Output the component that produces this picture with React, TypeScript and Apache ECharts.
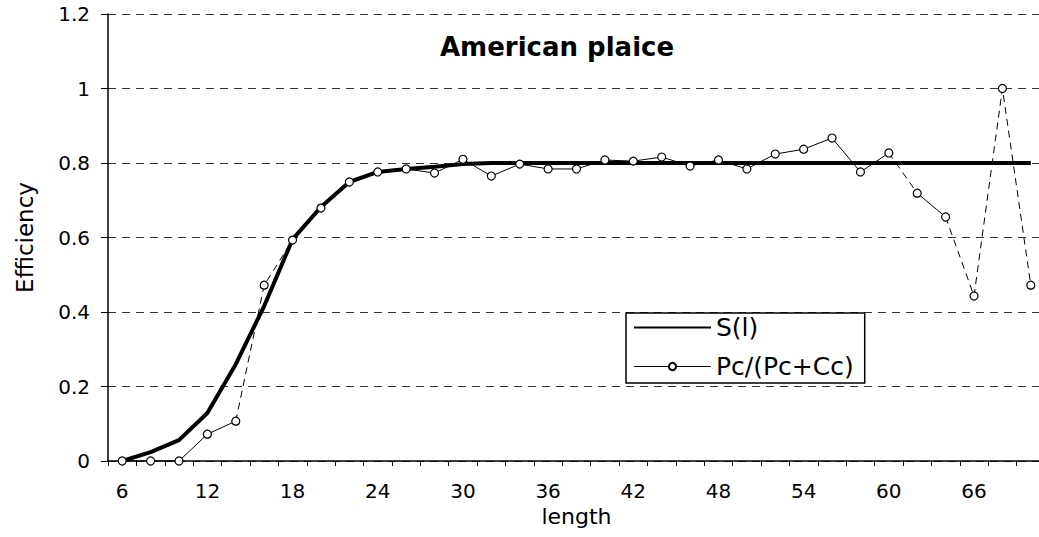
import React, { useEffect, useRef } from 'react';
import * as echarts from 'echarts';

const lengths = ['6', '8', '10', '12', '14', '16', '18', '20', '22', '24', '26', '28', '30', '32', '34', '36', '38', '40', '42', '44', '46', '48', '50', '52', '54', '56', '58', '60', '62', '64', '66', '68', '70'];

const sCurve = [0, 0.024, 0.056, 0.129, 0.26, 0.416, 0.595, 0.682, 0.749, 0.776, 0.784, 0.79, 0.797, 0.8, 0.8, 0.8, 0.8, 0.8, 0.8, 0.8, 0.8, 0.8, 0.8, 0.8, 0.8, 0.8, 0.8, 0.8, 0.8, 0.8, 0.8, 0.8, 0.8];

const pcRatio = [0, 0, 0, 0.072, 0.107, 0.472, 0.593, 0.679, 0.749, 0.776, 0.784, 0.773, 0.81, 0.765, 0.797, 0.784, 0.784, 0.808, 0.805, 0.816, 0.792, 0.808, 0.784, 0.824, 0.837, 0.867, 0.776, 0.827, 0.719, 0.655, 0.443, 1.0, 0.472];

const seriesNames = ['S(l)', 'Pc/(Pc+Cc)'];
const titleText = 'American plaice';
const xName = 'length';
const yName = 'Efficiency';

const FONT = 'DejaVu Sans';

export default function App() {
  const ref = useRef<HTMLDivElement>(null);
  useEffect(() => {
    document.body.style.margin = '0';
    const chart = echarts.init(ref.current!, null, { renderer: 'svg' });

    // segments of the thin series: steep ones rendered broken (dashed) as in the reference
    const runs: { start: number; end: number; dashed: boolean }[] = [];
    for (let i = 0; i < pcRatio.length - 1; i++) {
      const dashed = Math.abs(pcRatio[i + 1] - pcRatio[i]) > 0.1;
      const last = runs[runs.length - 1];
      if (last && last.dashed === dashed && last.end === i) last.end = i + 1;
      else runs.push({ start: i, end: i + 1, dashed });
    }

    const runSeries = runs.map((r) => ({
      name: seriesNames[1],
      type: 'line',
      data: pcRatio.map((v, i) => (i >= r.start && i <= r.end ? v : null)),
      symbol: 'none',
      connectNulls: false,
      lineStyle: { color: '#000', width: 1, type: r.dashed ? [7, 5] : 'solid' },
      z: 2,
      silent: true,
    }));

    const option: any = {
      animation: false,
      title: {
        text: titleText,
        left: 440,
        top: 34,
        padding: 0,
        textStyle: { fontFamily: FONT, fontWeight: 'bold', fontSize: 26, color: '#000' },
      },
      grid: { left: 108, top: 14, width: 937, height: 447, outerBoundsMode: 'none', containLabel: false },
      legend: {
        orient: 'vertical',
        left: 626,
        top: 313,
        itemWidth: 77,
        itemHeight: 9,
        itemGap: 14,
        padding: [2, 11, 4, 7],
        borderColor: '#000',
        borderWidth: 1.5,
        backgroundColor: '#fff',
        textStyle: { fontFamily: FONT, fontSize: 25, color: '#000' },
        data: [
          { name: seriesNames[0], itemStyle: { opacity: 0 } },
          { name: seriesNames[1], lineStyle: { opacity: 1, width: 1, color: '#000', type: 'solid' } },
        ],
      },
      xAxis: {
        type: 'category',
        data: lengths,
        boundaryGap: true,
        name: xName,
        nameLocation: 'middle',
        nameGap: 40,
        nameTextStyle: { fontFamily: FONT, fontSize: 22, color: '#000' },
        axisLine: { show: true, lineStyle: { color: '#000', width: 1.5 } },
        axisTick: { show: true, interval: 0, length: 5, lineStyle: { color: '#000', width: 1 } },
        axisLabel: { interval: 2, fontFamily: FONT, fontSize: 20, color: '#000', margin: 20 },
        splitLine: { show: false },
      },
      yAxis: {
        type: 'value',
        min: 0,
        max: 1.2,
        interval: 0.2,
        name: yName,
        nameLocation: 'middle',
        nameGap: 72,
        nameTextStyle: { fontFamily: FONT, fontSize: 23, color: '#000' },
        axisLine: { show: true, lineStyle: { color: '#000', width: 1.5 } },
        axisTick: { show: true, length: 7, lineStyle: { color: '#000', width: 1 } },
        axisLabel: {
          fontFamily: FONT,
          fontSize: 20,
          color: '#000',
          margin: 18,
          formatter: (v: number) => String(Math.round(v * 10) / 10),
        },
        splitLine: { show: true, lineStyle: { color: '#333', width: 1, type: [8, 6] } },
      },
      series: [
        {
          name: seriesNames[0],
          type: 'line',
          data: sCurve,
          symbol: 'none',
          itemStyle: { color: '#000' },
          lineStyle: { color: '#000', width: 4 },
          z: 3,
          silent: true,
        },
        {
          name: seriesNames[1],
          type: 'line',
          data: pcRatio,
          symbol: 'circle',
          symbolSize: 8,
          showSymbol: true,
          itemStyle: { color: '#fff', borderColor: '#000', borderWidth: 1.2 },
          lineStyle: { opacity: 0, width: 1, color: '#000' },
          z: 4,
          silent: true,
        },
        ...runSeries,
      ],
    };
    chart.setOption(option);
    return () => chart.dispose();
  }, []);
  return <div ref={ref} style={{ width: 1039, height: 537 }} />;
}
